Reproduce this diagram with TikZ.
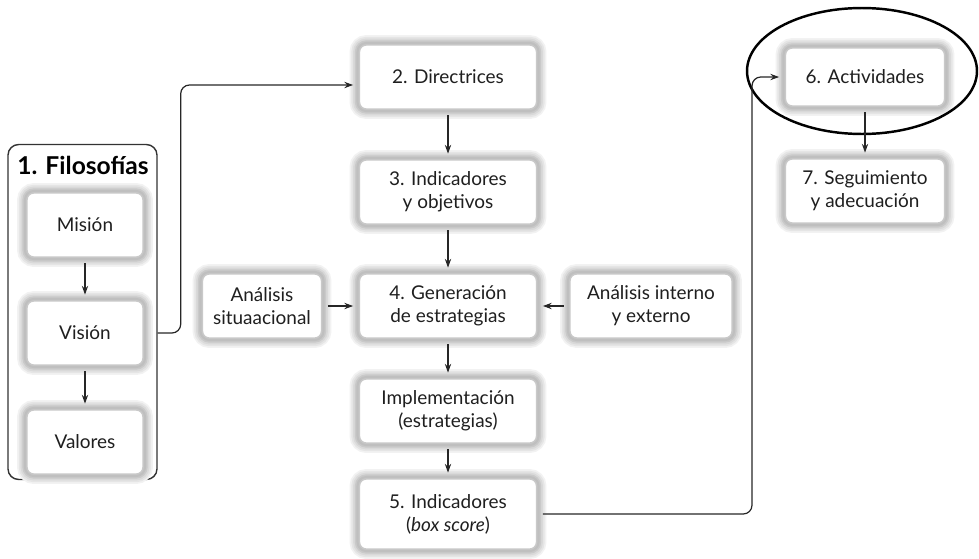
\documentclass[tikz,border=0pt]{standalone}
\usepackage{fontspec}
\setmainfont{Lato}
\usetikzlibrary{arrows.meta}

\begin{document}
\begin{tikzpicture}[x=0.02cm, y=-0.02cm,
        caja/.style={rectangle, rounded corners=5pt, fill=white, align=center,
            font=\fontsize{10.8}{13}\selectfont, text=black!88, inner sep=2pt, outer sep=2.5pt,
            minimum height=1.36cm,
            preaction={draw=black!5, line width=9pt},
            preaction={draw=black!10, line width=7pt},
            preaction={draw=black!15, line width=5pt},
            draw=black!21, line width=3pt,
            postaction={draw=black!25, line width=1.2pt}},
        flecha/.style={-{Stealth[length=5pt,width=3.6pt]}, line width=0.7pt, draw=black!85}]
        \useasboundingbox (0, 0) rectangle (979, 558);

        \node[draw=black!80, line width=0.8pt, rounded corners=6pt,
            minimum width=2.98cm, minimum height=6.7cm] (p) at (82.5, 312) {};
        \node (t) at (83, 165) {\bfseries\fontsize{14}{16}\selectfont 1. Filosofías};
        \node[caja, minimum width=2.4cm] (m) at (85, 225) {Misión};
        \node[caja, minimum width=2.4cm] (v) at (85, 333) {Visión};
        \node[caja, minimum width=2.4cm] (w) at (85, 442) {Valores};

        \node[caja, minimum width=3.62cm] (b) at (448, 77) {2. Directrices};
        \node[caja, minimum width=3.62cm] (c) at (448, 192) {3. Indicadores\\y objetivos};
        \node[caja, minimum width=3.62cm] (d) at (448, 306) {4. Generación\\de estrategias};
        \node[caja, minimum width=2.46cm] (s) at (262, 306) {Análisis\\situaacional};
        \node[caja, minimum width=3.32cm] (n) at (651, 306) {Análisis interno\\y externo};
        \node[caja, minimum width=3.62cm] (i) at (448, 411) {Implementación\\(estrategias)};
        \node[caja, minimum width=3.62cm, minimum height=1.48cm] (e) at (448, 514) {5. Indicadores\\(\textit{box score})};

        \node[caja, minimum width=3.26cm, minimum height=1.24cm] (g) at (865, 77) {6. Actividades};
        \node[caja, minimum width=3.26cm] (h) at (865, 191) {7. Seguimiento\\y adecuación};
        \draw[line width=1.4pt] (862, 71) ellipse [x radius=2.3cm, y radius=1.26cm];

        \draw[flecha] (m) -- (v);
        \draw[flecha] (v) -- (w);
        \draw[flecha, rounded corners=5pt] (p.east |- v) -- ++(23, 0) |- ([yshift=-1.6mm]b.west);
        \draw[flecha] (b) -- (c);
        \draw[flecha] (c) -- (d);
        \draw[flecha] (s) -- (d);
        \draw[flecha] (n) -- (d);
        \draw[flecha] (d) -- (i);
        \draw[flecha] (i) -- (e);
        \draw[flecha, rounded corners=5pt] (e.east) -| (752, 300) |- (g.west);
        \draw[flecha] (g) -- (h);
    \end{tikzpicture}
\end{document}
